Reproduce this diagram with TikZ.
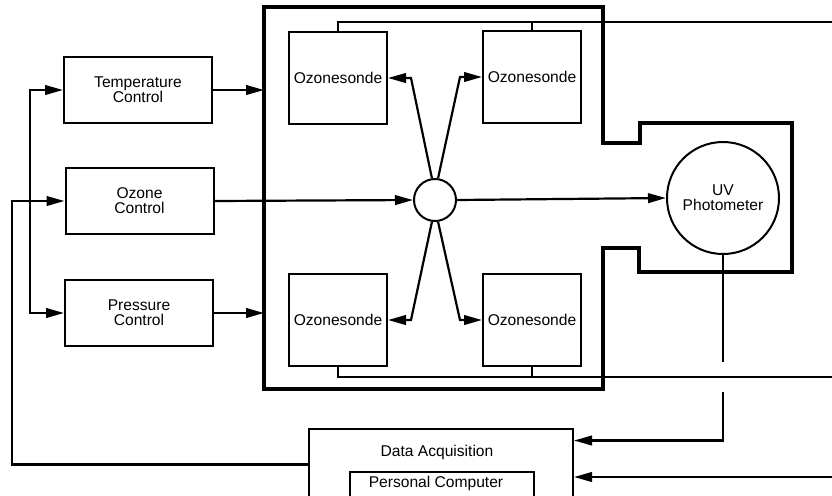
\documentclass[tikz,border=0pt]{standalone}
\usepackage{fontspec}
\setmainfont{Liberation Sans}
\usetikzlibrary{arrows.meta}
\tikzset{
  lbl/.style={font=\fontsize{7.8}{7.6}\selectfont, align=center, inner sep=0pt},
  ctrl/.style={draw, line width=1pt, lbl, minimum width=74pt, minimum height=33pt},
  sonde/.style={draw, line width=1pt, lbl, minimum width=49pt, minimum height=46pt},
  flow/.style={line width=1.1pt, -{Triangle[length=9pt,width=4.8pt]}},
  wire/.style={line width=1.3pt},
  wall/.style={line width=1.9pt},
}

\begin{document}
\begin{tikzpicture}[x=0.5pt,y=-0.5pt]
      \useasboundingbox (0,0) rectangle (832,495);
      % controllers
      \node[ctrl] (temp) at (138,90) {Temperature\\Control};
      \node[ctrl] (ozone) at (139.5,201) {Ozone\\Control};
      \node[ctrl] (press) at (139,313) {Pressure\\Control};
      % chamber wall
      \draw[wall] (264,7) -- (603,7) -- (603,143) -- (640,143) -- (640,123)
        -- (792,123) -- (792,272) -- (639,272) -- (639,248) -- (603,248)
        -- (603,389) -- (264,389) -- cycle;
      \coordinate (wall) at (264,200);
      % sondes
      \node[sonde] (sTL) at (338,78) {Ozonesonde};
      \node[sonde] (sTR) at (532,77) {Ozonesonde};
      \node[sonde] (sBL) at (338,320) {Ozonesonde};
      \node[sonde] (sBR) at (532,320) {Ozonesonde};
      \node[draw, circle, line width=1pt, minimum size=21pt, inner sep=0pt] (mix) at (435,200) {};
      \node[draw, circle, line width=1pt, minimum size=56pt, inner sep=0pt, lbl] (uv) at (723,198) {UV\\Photometer};
      % data acquisition
      \node[draw, line width=1pt, minimum width=132pt, minimum height=35.5pt] (daq) at (441,464.5) {};
      \node[lbl] (daqtxt) at (437,452) {Data Acquisition};
      \node[draw, line width=1pt, minimum width=92pt, minimum height=14pt, lbl] (pc) at (442,486) {};
      \node[lbl] (pctxt) at (436,483) {Personal Computer};
      \coordinate (topend) at (832,22);
      \coordinate (botend) at (832,377);
      \coordinate (pcin) at (832,477);
      \coordinate (bus) at (30,201);
      \coordinate (gap1) at (723,362);
      \coordinate (gap2) at (723,392);

      \draw[wire] (sTL.north) |- (topend);
      \draw[wire] (sTR.north) -- (sTR.north |- topend);
      \draw[wire] (sBL.south) |- (botend);
      \draw[wire] (sBR.south) -- (sBR.south |- botend);

      \draw[flow] (daq.west) -- ++(-296,0) |- (ozone.west);
      \draw[flow] (bus) |- (temp.west);
      \draw[flow] (bus) |- (press.west);
      \draw[flow] (temp.east) -- (temp.east -| wall);
      \draw[flow] (press.east) -- (press.east -| wall);
      \draw[flow] (ozone.east) -- (mix.west);
      \draw[flow] (mix.east) -- (uv.west);
      \draw[flow] (mix.98) -- ([xshift=11.5pt]sTL.east) -- (sTL.east);
      \draw[flow] (mix.82) -- ([xshift=-11pt]sTR.west) -- (sTR.west);
      \draw[flow] (mix.262) -- ([xshift=11.5pt]sBL.east) -- (sBL.east);
      \draw[flow] (mix.278) -- ([xshift=-11pt]sBR.west) -- (sBR.west);

      \draw[line width=1pt] (uv.south) -- (gap1);
      \draw[flow] (gap2) |- ([yshift=12pt]daq.east);
      \draw[flow] (pcin) -- (pcin -| daq.east);
    \end{tikzpicture}
\end{document}
